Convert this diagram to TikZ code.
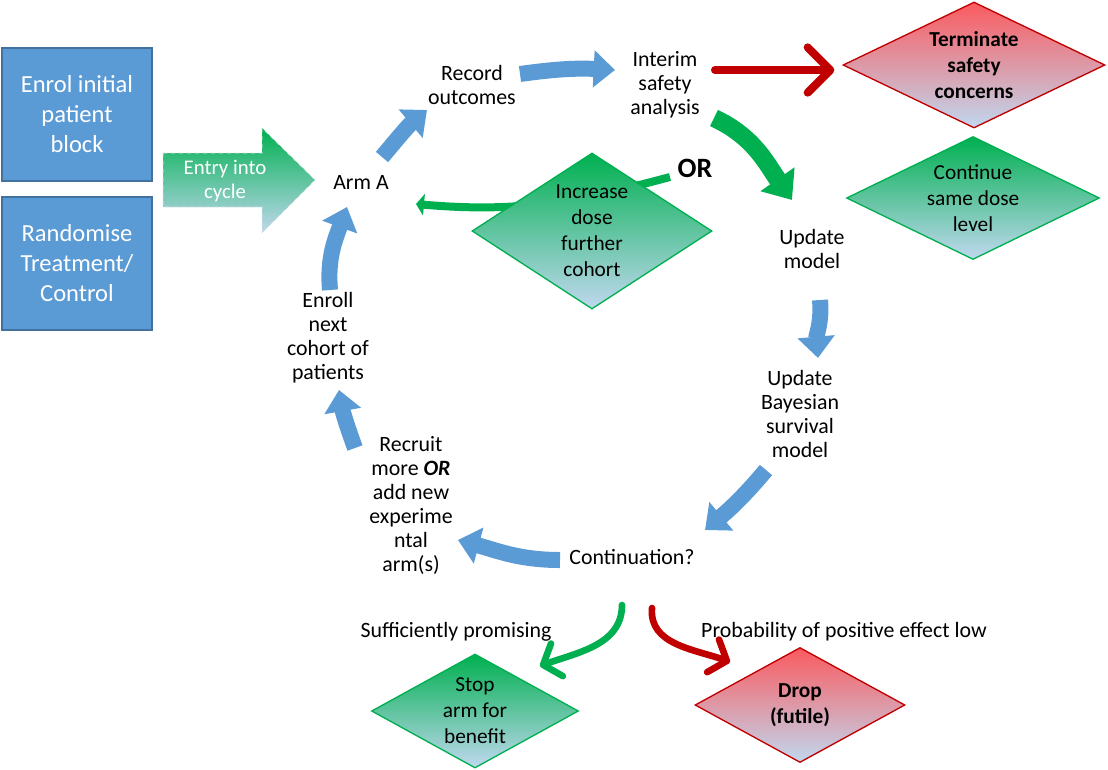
\documentclass[tikz,border=0pt]{standalone}
\usepackage{fontspec}
\setmainfont{Carlito}
\usepackage{tikz}
\usetikzlibrary{
arrows.meta,
positioning,
shapes.geometric,
calc
}
\definecolor{cycblue}{HTML}{5B9BD5}
\definecolor{cycedge}{HTML}{41719C}
\definecolor{okgreen}{HTML}{00B050}
\definecolor{badred}{HTML}{C00000}
\definecolor{paleblue}{HTML}{C0D8EF}
\definecolor{redtop}{RGB}{250,90,95}

\begin{document}
\begin{tikzpicture}[
  x=0.75pt, y=0.75pt,
  stage/.style={align=center, inner sep=2pt,
                font=\fontsize{16.4}{18}\selectfont},
  startbox/.style={draw=cycedge, line width=1.2pt, fill=cycblue,
                   text=white, align=center,
                   minimum width=112.5pt, minimum height=99.75pt,
                   font=\fontsize{18.4}{22.5}\selectfont},
  gooddec/.style={diamond, draw=okgreen, line width=1pt,
                  top color=okgreen, bottom color=paleblue,
                  align=center, inner sep=0pt,
                  font=\fontsize{16}{19.5}\selectfont},
  baddec/.style={diamond, draw=badred, line width=1pt,
                 top color=redtop, bottom color=paleblue,
                 align=center, inner sep=0pt,
                 font=\fontsize{16}{19.5}\selectfont\bfseries},
  cyclearrow/.style={cycblue, line width=12pt,
                     -{Triangle[length=16pt,width=27pt]}},
  bigarrow/.style={okgreen, line width=13.5pt,
                   -{Triangle[length=19pt,width=30pt]}},
  barbarrow/.style={line width=5pt, line cap=round,
                    -{Straight Barb[round,length=11pt,width=26pt]}}
]
\useasboundingbox (0,0) rectangle (1108,-769);

%% Start boxes (left)
\node[startbox] (enrol) at (77,-114.5)
  {Enrol initial\\patient\\block};
\node[startbox] (rand) at (77,-263.5)
  {Randomise\\Treatment/\\Control};

%% Entry arrow
\shade[top color=okgreen, bottom color=paleblue,
       draw=white!80!gray, dashed]
  (163,-153) -- (262,-153) -- (262,-128) -- (315,-180)
  -- (262,-233) -- (262,-207) -- (163,-207) -- cycle;
\node[stage, text=white, font=\fontsize{15.6}{18}\selectfont]
  (entry) at (225,-181) {Entry into\\cycle};

%% Cycle stages
\node[stage] (arm) at (361,-182) {Arm A};
\node[stage] (rec) at (472,-85) {Record\\outcomes};
\node[stage] (interim) at (665,-85) {Interim\\safety\\analysis};
\node[stage] (upd) at (812,-249) {Update\\model};
\node[stage] (bayes) at (800,-414)
  {Update\\Bayesian\\survival\\model};
\node[stage] (cont) at (632,-557) {Continuation?};
\node[stage] (recruit) at (411,-505)
  {Recruit\\more \textbf{\textit{OR}}\\add new\\experime\\ntal\\arm(s)};
\node[stage] (enroll) at (328,-338)
  {Enroll\\next\\cohort of\\patients};

%% OR branch (drawn under its diamond)
\node[font=\fontsize{21}{24}\selectfont\bfseries] (orlbl) at (695,-168) {OR};
\draw[okgreen, line width=6pt,
      -{Triangle[length=6pt,width=16pt]}]
  ($(orlbl)+(-25,-9)$) to[out=195,in=-5] ($(arm)+(55,-22)$);

%% Decisions
\node[baddec, aspect=2.08, minimum width=196.5pt, minimum height=94.5pt]
  (term) at (974,-65) {Terminate\\safety\\concerns};
\node[gooddec, aspect=2.06, minimum width=189.75pt, minimum height=92.25pt]
  (same) at (973,-198) {Continue\\same dose\\level};
\node[gooddec, aspect=1.54, minimum width=180pt, minimum height=117pt]
  (inc) at (592,-231) {Increase\\dose\\further\\cohort};
\node[gooddec, aspect=1.82, minimum width=155.25pt, minimum height=85.5pt]
  (stop) at (475,-711) {Stop\\arm for\\benefit};
\node[baddec, aspect=1.83, minimum width=157.5pt, minimum height=86.25pt]
  (drop) at (800,-705) {Drop\\(futile)};

%% Cycle arrows
\draw[cyclearrow] ($(arm)+(21,25)$) to[out=50,in=-140] ($(rec)+(-45,-25)$);
\draw[cyclearrow] ($(rec)+(48,11)$) to[out=8,in=177] ($(interim)+(-50,15)$);
\draw[bigarrow] ($(interim)+(49,-33)$) to[out=-25,in=125] ($(upd)+(-20,49)$);
\draw[cyclearrow] ($(upd)+(8,-51)$) to[out=-85,in=95] ($(bayes)+(18,56)$);
\draw[cyclearrow] ($(bayes)+(-34,-56)$) to[out=-130,in=40] ($(cont)+(73,27)$);
\draw[cyclearrow] ($(cont)+(-72,-3)$) to[out=180,in=-15] ($(recruit)+(47,-35)$);
\draw[cyclearrow] ($(recruit)+(-56,57)$) to[out=110,in=-80] ($(enroll)+(11,-52)$);
\draw[cyclearrow] ($(enroll)+(2,48)$) to[out=95,in=-110] ($(arm)+(-14,-25)$);

%% Safety stop
\draw[barbarrow, badred, line width=6pt,
      -{Straight Barb[round,length=17pt,width=34pt]}]
  ($(interim)+(50,15)$) -- ($(term.west)+(-8,-5)$);

%% Continuation outcomes
\draw[barbarrow, okgreen]
  ($(cont)+(-10,-48)$) to[out=-90,in=20] ($(stop)+(65,45)$);
\draw[barbarrow, badred]
  ($(cont)+(20,-51)$) to[out=-95,in=160] ($(drop)+(-70,43)$);

\node[stage] (suff) at (456,-632) {Sufficiently promising};
\node[stage] (prob) at (844,-632) {Probability of positive effect low};

\end{tikzpicture}
\end{document}
